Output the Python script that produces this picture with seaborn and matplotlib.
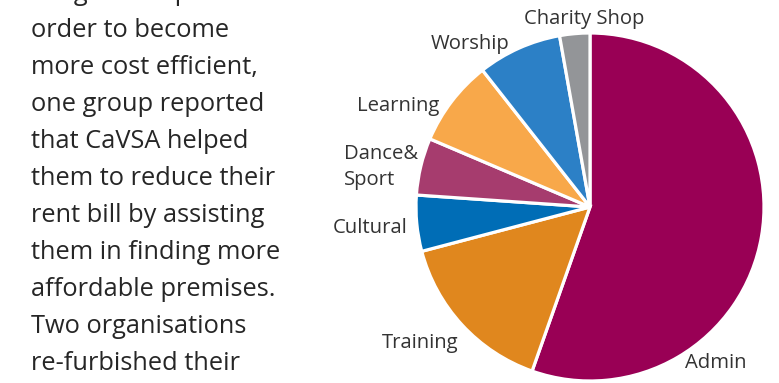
import matplotlib
matplotlib.use("Agg")
import matplotlib.pyplot as plt
import seaborn as sns

sns.set_theme(style="white")
plt.rcParams['font.family'] = ['Open Sans', 'DejaVu Sans']

# ---- data ----
categories = ["Admin", "Training", "Cultural", "Dance&\nSport", "Learning", "Worship", "Charity Shop"]
shares = [55.4, 15.5, 5.2, 5.3, 8.0, 7.8, 2.8]
colors = ["#990055", "#E0871E", "#006DB6", "#A63C6E", "#F8A84A", "#2C80C6", "#939598"]

body_lines = [
    "sought new premises",
    "order to become",
    "more cost efficient,",
    "one group reported",
    "that CaVSA helped",
    "them to reduce their",
    "rent bill by assisting",
    "them in finding more",
    "affordable premises.",
    "Two organisations",
    "re-furbished their",
]

# label anchor positions (pixels in the 779x383 figure)
label_pos = [(716, 363), (420, 343), (370, 228), (344, 167), (398, 106), (470, 44), (584, 19)]
label_ha = ["center", "center", "center", "left", "center", "center", "center"]

W, H = 779, 383
fig = plt.figure(figsize=(W / 100, H / 100), dpi=100)
fig.patch.set_facecolor("white")

cx, cy, R = 590, 207, 174
ax = fig.add_axes([(cx - R) / W, (H - cy - R) / H, 2 * R / W, 2 * R / H])
ax.pie(shares, colors=colors, startangle=90, counterclock=False,
       wedgeprops=dict(edgecolor="white", linewidth=2.3))
ax.set_xlim(-1, 1)
ax.set_ylim(-1, 1)
ax.set_aspect("equal")
ax.axis("off")

for lab, (px, py), ha in zip(categories, label_pos, label_ha):
    fig.text(px / W, 1 - py / H, lab, ha=ha, va="center", fontsize=14.6,
             color="#333333", linespacing=1.45)

base0 = -0.3
step = 37.0
for i, line in enumerate(body_lines):
    y = base0 + i * step
    fig.text(31 / W, 1 - y / H, line, ha="left", va="baseline",
             fontsize=18.3, color="#262626")

fig.savefig("out.png", dpi=100, facecolor="white")
